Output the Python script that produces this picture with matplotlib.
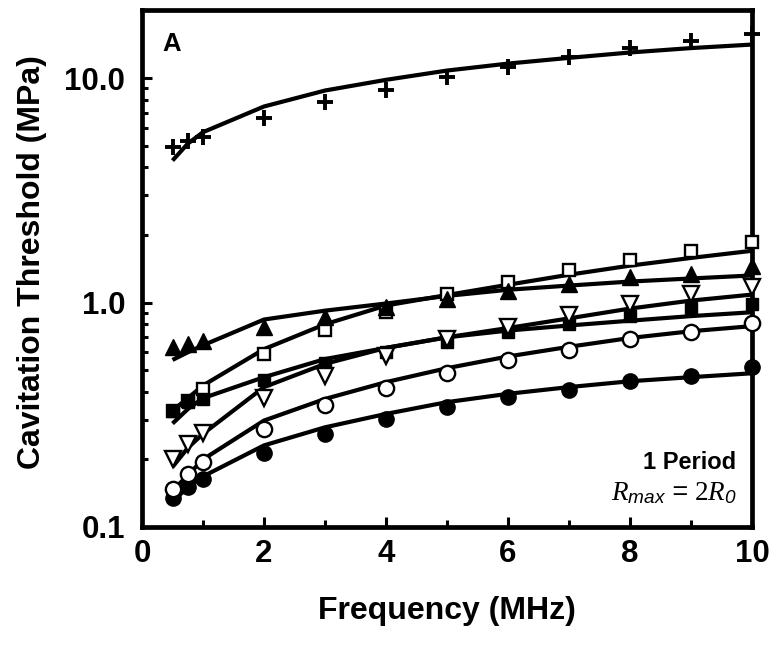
import matplotlib
matplotlib.use('Agg')
import matplotlib.pyplot as plt
from matplotlib.ticker import FixedLocator, FixedFormatter, NullFormatter

plt.rcParams['font.family'] = ['Liberation Sans', 'DejaVu Sans']
plt.rcParams['mathtext.fontset'] = 'custom'
plt.rcParams['mathtext.it'] = 'Liberation Serif:italic'
plt.rcParams['mathtext.rm'] = 'Liberation Serif'
plt.rcParams['mathtext.sf'] = 'Liberation Sans:italic'

# ---------------- data ----------------
freq = [0.5, 0.75, 1, 2, 3, 4, 5, 6, 7, 8, 9, 10]

plus_data = [4.92, 5.27, 5.49, 6.65, 7.85, 8.85, 10.1, 11.25, 12.4, 13.6, 14.7, 15.7]
plus_fit = [4.29, 5.1, 5.74, 7.47, 8.8, 9.82, 10.8, 11.6, 12.3, 13.0, 13.6, 14.1]

sq_open_data = [0.33, 0.365, 0.412, 0.587, 0.758, 0.905, 1.09, 1.23, 1.39, 1.55, 1.70, 1.86]
sq_open_fit = [0.33, 0.375, 0.427, 0.62, 0.80, 0.97, 1.08, 1.20, 1.33, 1.46, 1.58, 1.70]

tri_up_data = [0.632, 0.655, 0.677, 0.78, 0.86, 0.953, 1.04, 1.13, 1.21, 1.30, 1.34, 1.45]
tri_up_fit = [0.555, 0.60, 0.645, 0.84, 0.92, 0.99, 1.07, 1.14, 1.19, 1.24, 1.28, 1.32]

sq_fill_data = [0.33, 0.36, 0.372, 0.452, 0.537, 0.60, 0.666, 0.738, 0.804, 0.875, 0.947, 0.987]
sq_fill_fit = [0.289, 0.335, 0.375, 0.465, 0.56, 0.628, 0.70, 0.75, 0.79, 0.83, 0.87, 0.905]

tri_down_data = [0.201, 0.235, 0.262, 0.375, 0.473, 0.575, 0.69, 0.782, 0.884, 0.98, 1.086, 1.17]
tri_down_fit = [0.185, 0.225, 0.26, 0.42, 0.533, 0.628, 0.70, 0.77, 0.85, 0.94, 1.02, 1.085]

circ_fill_data = [0.134, 0.15, 0.164, 0.213, 0.26, 0.303, 0.342, 0.379, 0.406, 0.446, 0.473, 0.515]
circ_fill_fit = [0.13, 0.15, 0.168, 0.231, 0.278, 0.319, 0.36, 0.392, 0.42, 0.446, 0.465, 0.484]

circ_open_data = [0.148, 0.173, 0.195, 0.274, 0.348, 0.415, 0.484, 0.552, 0.616, 0.69, 0.738, 0.809]
circ_open_fit = [0.145, 0.17, 0.2, 0.298, 0.372, 0.442, 0.51, 0.575, 0.635, 0.695, 0.745, 0.785]

x_ticks = [0, 2, 4, 6, 8, 10]
x_tick_labels = ['0', '2', '4', '6', '8', '10']
y_ticks = [0.1, 1.0, 10.0]
y_tick_labels = ['0.1', '1.0', '10.0']

# ---------------- figure ----------------
fig = plt.figure(figsize=(7.76, 6.45), dpi=100)
ax = fig.add_axes([142/776, 1-527/645, (752-142)/776, (527-10)/645])

LW = 3.0
fits = [plus_fit, sq_open_fit, tri_up_fit, sq_fill_fit, tri_down_fit, circ_fill_fit, circ_open_fit]
for f in fits:
    ax.plot(freq, f, color='black', lw=LW, solid_capstyle='butt', zorder=2, clip_on=False)

series = [
    (sq_open_data, dict(marker='s', ms=8.5, mfc='white', mec='black', mew=1.7)),
    (tri_up_data, dict(marker='^', ms=11.5, mfc='black', mec='black', mew=1)),
    (sq_fill_data, dict(marker='s', ms=8.5, mfc='black', mec='black', mew=1)),
    (tri_down_data, dict(marker='v', ms=11.5, mfc='white', mec='black', mew=1.7)),
    (circ_fill_data, dict(marker='o', ms=11, mfc='black', mec='black', mew=1)),
    (circ_open_data, dict(marker='o', ms=11, mfc='white', mec='black', mew=1.7)),
    (plus_data, dict(marker='+', ms=12, mec='black', mew=2.8)),
]
for i, (d, st) in enumerate(series):
    ax.plot(freq, d, ls='none', zorder=3 + i, clip_on=False, **st)

ax.set_yscale('log')
ax.set_xlim(0, 10)
ax.set_ylim(0.1, 20.1)

ax.xaxis.set_major_locator(FixedLocator(x_ticks))
ax.xaxis.set_major_formatter(FixedFormatter(x_tick_labels))
ax.xaxis.set_minor_locator(FixedLocator([1, 3, 5, 7, 9]))
ax.yaxis.set_major_locator(FixedLocator(y_ticks))
ax.yaxis.set_major_formatter(FixedFormatter(y_tick_labels))
minor_y = [m * 10.0**e for e in (-1, 0, 1) for m in range(2, 10) if m * 10.0**e < 20]
ax.yaxis.set_minor_locator(FixedLocator(minor_y))
ax.yaxis.set_minor_formatter(NullFormatter())

ax.tick_params(which='both', direction='in', top=False, right=False, width=2.2, color='black')
ax.tick_params(axis='y', which='major', length=7, pad=12, labelsize=22.5)
ax.tick_params(axis='y', which='minor', length=4)
ax.tick_params(axis='x', which='major', length=7, pad=9, labelsize=22.5)
ax.tick_params(axis='x', which='minor', length=5)
for lab in ax.get_xticklabels() + ax.get_yticklabels():
    lab.set_fontweight('bold')

for sp in ax.spines.values():
    sp.set_linewidth(3.4)

fig.text(32/776, 1-262/645, 'Cavitation Threshold (MPa)', rotation=90, ha='center', va='center',
         fontsize=23, fontweight='bold')
fig.text(447/776, 1-611/645, 'Frequency (MHz)', ha='center', va='center', fontsize=23, fontweight='bold')

fig.text(162/776, 1-51/645, 'A', ha='left', va='baseline', fontsize=18.5, fontweight='bold')
fig.text(736/776, 1-469/645, '1 Period', ha='right', va='baseline', fontsize=17, fontweight='bold')
fig.text(737/776, 1-500/645, r'$R_{\mathsf{max}}\,\mathsf{=}\,\mathrm{2}R_{\mathsf{0}}$', ha='right', va='baseline',
         fontsize=19.5)

fig.savefig('out.png', dpi=100)
